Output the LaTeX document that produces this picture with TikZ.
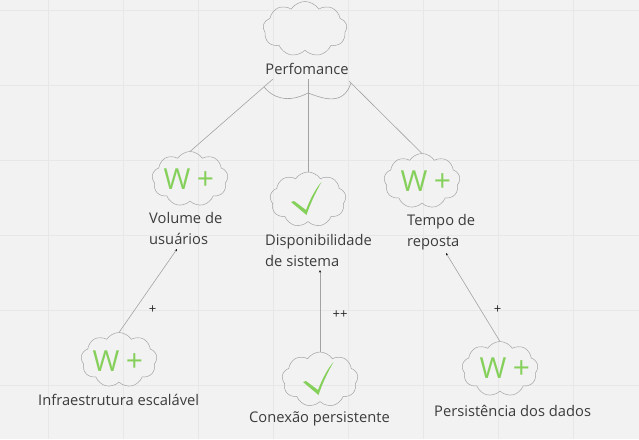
\documentclass[tikz,border=0pt]{standalone}
\usepackage{fontspec}
\setmainfont{Open Sans}
\usetikzlibrary{shapes.symbols,arrows.meta}
\definecolor{bgc}{HTML}{F2F2F2}
\definecolor{gridc}{HTML}{E7E7E7}
\definecolor{linec}{HTML}{A3A3A3}
\definecolor{txtc}{HTML}{3C3C3C}
\definecolor{greenc}{HTML}{85CF5B}
\tikzset{
 x=1pt,y=-1pt,
 cloudbox/.style={cloud,cloud puffs=9,cloud puff arc=115,aspect=1.38,draw=linec,line width=.5pt,minimum width=76pt,minimum height=55pt,inner sep=0pt,outer sep=0pt},
 bigcloud/.style={cloudbox,minimum width=84pt,aspect=1.5},
 lbl/.style={font=\fontsize{14.7}{21}\selectfont,text=txtc,align=left,anchor=west,inner sep=0pt},
 sign/.style={font=\fontsize{13}{14}\selectfont,text=black!85,inner sep=0pt},
 wmark/.style={font=\fontsize{29}{30}\selectfont,text=greenc,inner sep=0pt},
 pmark/.style={font=\fontsize{30}{30}\selectfont,text=greenc,inner sep=0pt},
 conn/.style={draw=linec,line width=.6pt},
 dep/.style={conn,-{Stealth[length=2.5pt,width=2pt,color=black]}},
}
\newcommand{\chk}[1]{\fill[greenc] ([shift={(-17,2.5)}]#1.center) -- ([shift={(-14,1.5)}]#1.center) -- ([shift={(-2,10.5)}]#1.center) .. controls ([shift={(2,0)}]#1.center) and ([shift={(7,-10)}]#1.center) .. ([shift={(13.5,-17.5)}]#1.center) .. controls ([shift={(7,-6)}]#1.center) and ([shift={(2,5)}]#1.center) .. ([shift={(-1.5,15.5)}]#1.center) -- cycle;}
\begin{document}
\begin{tikzpicture}
\fill[bgc] (0,0) rectangle (639,439);
\useasboundingbox (0,0) rectangle (639,439);
\foreach \g in {48,123,198,273,348,423,498,573} \draw[gridc,line width=.6pt] (\g,0) -- (\g,439);
\foreach \g in {10,85,160,235,310,385} \draw[gridc,line width=.6pt] (0,\g) -- (639,\g);

\node[bigcloud] (top) at (305,29) {};
\node[cloudbox] (vol) at (190,179) {};
\node[cloudbox] (dis) at (308,199.5) {};
\node[cloudbox] (tem) at (422,181) {};
\node[cloudbox] (inf) at (119,360) {};
\node[cloudbox] (con) at (320,379.5) {};
\node[cloudbox] (per) at (500,369) {};

\node[lbl,anchor=center] (tperf) at (307,69) {Perfomance};
\node[lbl] (tvol) at (149,228) {Volume de\\usuários};
\node[lbl] (tdis) at (265,250) {Disponibilidade\\de sistema};
\node[lbl] (ttem) at (407,232) {Tempo de\\reposta};
\node[lbl] (tinf) at (38,400) {Infraestrutura escalável};
\node[lbl] (tcon) at (249,419) {Conexão persistente};
\node[lbl] (tper) at (434,411) {Persistência dos dados};

\foreach \n/\x/\y in {vol/177/179,tem/414/181,inf/106/361,per/493/368}{
 \node[wmark] (w\n) at (\x,\y) {W};
 \node[pmark] (p\n) at (\x+28.5,\y+2) {+};
}
\chk{dis}
\chk{con}

\coordinate (a1) at (273,79);
\coordinate (a2) at (308,79);
\coordinate (a3) at (349,81);
\coordinate (b1) at (264,87);
\coordinate (b2) at (308,93);
\coordinate (b3) at (351,83);
\draw[conn] (a1) -- (vol.north);
\draw[conn] (a2) -- (dis.north);
\draw[conn] (a3) -- (tem.north);
\draw[conn] (b1) .. controls (272,97) and (287,104) .. (b2) .. controls (322,98) and (343,107) .. (b3);

\coordinate (e1) at (177,249);
\coordinate (e2) at (320,270);
\coordinate (e3) at (446,253);
\draw[dep] (inf.north) -- (e1);
\draw[dep] (con.north) -- (e2);
\draw[dep] (per.north) -- (e3);

\node[sign] (s1) at (152.5,310) {+};
\node[sign] (s2) at (340,315) {++};
\node[sign] (s3) at (497.5,310) {+};
\end{tikzpicture}
\end{document}
